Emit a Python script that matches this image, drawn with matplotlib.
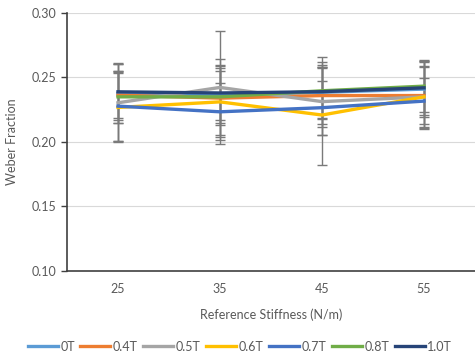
import numpy as np
import matplotlib.pyplot as plt

plt.rcParams['font.family'] = ['Lato', 'DejaVu Sans']

stiffness = ['25', '35', '45', '55']
labels = ['0T', '0.4T', '0.5T', '0.6T', '0.7T', '0.8T', '1.0T']
colors = ['#5B9BD5', '#ED7D31', '#A5A5A5', '#FFC000', '#4472C4', '#70AD47', '#264478']

# mean Weber fraction per field strength
w_0T = [0.2376, 0.2363, 0.2385, 0.2410]
w_04T = [0.2363, 0.2340, 0.2360, 0.2360]
w_05T = [0.2304, 0.2423, 0.2313, 0.2350]
w_06T = [0.2268, 0.2311, 0.2209, 0.2350]
w_07T = [0.2278, 0.2234, 0.2266, 0.2317]
w_08T = [0.2350, 0.2350, 0.2397, 0.2433]
w_10T = [0.2389, 0.2380, 0.2390, 0.2420]

# error bar half-widths
e_0T = [0.023, 0.023, 0.020, 0.022]
e_04T = [0.018, 0.030, 0.022, 0.026]
e_05T = [0.030, 0.044, 0.026, 0.023]
e_06T = [0.027, 0.026, 0.039, 0.024]
e_07T = [0.027, 0.022, 0.021, 0.018]
e_08T = [0.020, 0.020, 0.022, 0.020]
e_10T = [0.022, 0.021, 0.027, 0.021]

means = [w_0T, w_04T, w_05T, w_06T, w_07T, w_08T, w_10T]
errs = [e_0T, e_04T, e_05T, e_06T, e_07T, e_08T, e_10T]

fig = plt.figure(figsize=(4.75, 3.64), dpi=100)
ax = fig.add_axes([0.141, 0.2555, 0.859, 0.7088])

x = np.arange(len(stiffness))
for m, e, c, lab in zip(means, errs, colors, labels):
    ax.errorbar(x, m, yerr=e, color=c, lw=2.4, label=lab,
                ecolor='#7a7a7a', elinewidth=1.0, capsize=3.5, capthick=1.0)

ax.set_xlim(-0.5, 3.5)
ax.set_ylim(0.10, 0.30)
ax.set_yticks([0.10, 0.15, 0.20, 0.25, 0.30])
ax.set_yticklabels(['0.10', '0.15', '0.20', '0.25', '0.30'])
ax.set_xticks(x)
ax.set_xticklabels(stiffness)
ax.grid(axis='y', color='#d9d9d9', lw=0.8)
ax.set_axisbelow(True)
ax.tick_params(axis='x', length=0, pad=9, labelsize=9, colors='#595959')
ax.tick_params(axis='y', length=4, width=1, color='#404040', labelsize=9, labelcolor='#595959')
for s in ['top', 'right']:
    ax.spines[s].set_visible(False)
for s in ['left', 'bottom']:
    ax.spines[s].set_color('#404040')
    ax.spines[s].set_linewidth(1.2)

ax.set_xlabel('Reference Stiffness (N/m)', fontsize=9, color='#595959', labelpad=9)
ax.set_ylabel('Weber Fraction', fontsize=9, color='#595959', labelpad=10)

lines = [plt.Line2D([], [], color=c, lw=2.4) for c in colors]
fig.legend(lines, labels, loc='lower center', ncol=7, frameon=False,
           bbox_to_anchor=(0.505, 0.0), fontsize=9, handlelength=2.4,
           handletextpad=0.2, columnspacing=0.45, labelcolor='#595959')

fig.savefig('out.png', dpi=100)
